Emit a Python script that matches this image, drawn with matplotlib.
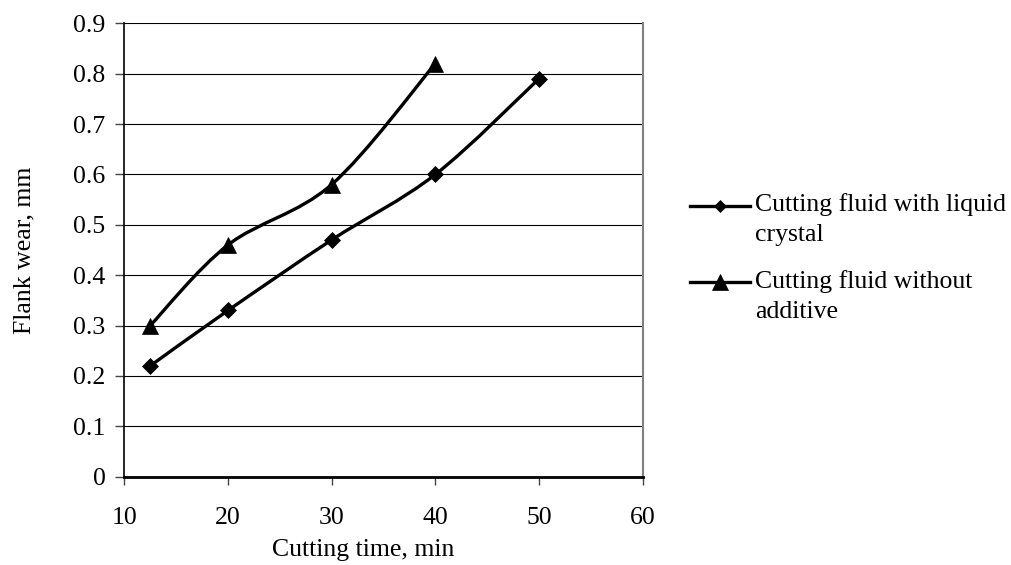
import numpy as np
import matplotlib
matplotlib.use('Agg')
import matplotlib.pyplot as plt
from matplotlib.path import Path
from matplotlib.patches import PathPatch
from matplotlib.lines import Line2D
from matplotlib.legend_handler import HandlerLine2D

plt.rcParams['font.family'] = ['Liberation Serif', 'DejaVu Serif']
plt.rcParams['font.size'] = 18.5

# donnees
time_crystal = [12.5, 20, 30, 40, 50]
wear_crystal = [0.22, 0.33, 0.47, 0.60, 0.79]
time_plain = [12.5, 20, 30, 40]
wear_plain = [0.30, 0.46, 0.58, 0.82]

labels = ['Cutting fluid with liquid\ncrystal', 'Cutting fluid without\nadditive']
x_ticks = [10, 20, 30, 40, 50, 60]
y_ticks = [0, 0.1, 0.2, 0.3, 0.4, 0.5, 0.6, 0.7, 0.8, 0.9]


def smooth_path(xs, ys):
    # courbe lissee type Excel (Bezier / Catmull-Rom)
    pts = np.column_stack([xs, ys]).astype(float)
    n = len(pts)
    verts = [pts[0]]
    codes = [Path.MOVETO]
    for i in range(n - 1):
        p_prev = pts[i - 1] if i > 0 else pts[i]
        p_next = pts[i + 2] if i + 2 < n else pts[i + 1]
        c1 = pts[i] + (pts[i + 1] - p_prev) / 6.0
        c2 = pts[i + 1] - (p_next - pts[i]) / 6.0
        verts += [c1, c2, pts[i + 1]]
        codes += [Path.CURVE4] * 3
    return Path(verts, codes)


class FirstLineHandler(HandlerLine2D):
    # aligne le symbole sur la premiere ligne du texte
    def create_artists(self, legend, orig_handle, xdescent, ydescent,
                       width, height, fontsize, trans):
        shift = 9.7
        return super().create_artists(legend, orig_handle, xdescent,
                                      ydescent - 2 * shift, width, height,
                                      fontsize, trans)


fig = plt.figure(figsize=(10.11, 5.65), dpi=100)
ax = fig.add_axes([124.3 / 1011, 1 - 476.7 / 565, 518.4 / 1011, 453.4 / 565])

lw = 2.4
for xs, ys in [(time_crystal, wear_crystal), (time_plain, wear_plain)]:
    ax.add_patch(PathPatch(smooth_path(xs, ys), facecolor='none', edgecolor='black',
                           lw=lw, transform=ax.transData, zorder=3, capstyle='round',
                           joinstyle='round'))

ax.plot(time_crystal, wear_crystal, linestyle='none', marker='D', ms=8.4,
        color='black', mew=0.5, zorder=4)
ax.plot(time_plain, wear_plain, linestyle='none', marker='^', ms=12,
        color='black', mew=0.5, zorder=4)

ax.set_xlim(10, 60)
ax.set_ylim(0, 0.9)
ax.set_xticks(x_ticks)
ax.set_yticks(y_ticks)
ax.set_yticklabels(['0' if v == 0 else f'{v:.1f}' for v in y_ticks])

ax.grid(axis='y', color='black', lw=0.8, zorder=1)
ax.set_axisbelow(True)
ax.spines['top'].set_visible(False)
ax.spines['right'].set_color('#808080')
ax.spines['right'].set_linewidth(1.5)
ax.spines['left'].set_linewidth(1.2)
ax.spines['bottom'].set_linewidth(2.0)

ax.tick_params(axis='x', direction='out', length=6, width=1, color='#444444', pad=16)
ax.tick_params(axis='y', direction='out', length=6.5, width=1, color='#444444', pad=7)

ax.set_xlabel('Cutting time, min', x=0.46, labelpad=7)
ax.set_ylabel('Flank wear, mm', labelpad=27)

h1 = Line2D([], [], color='black', lw=lw, marker='D', ms=6.5, mew=0.5)
h2 = Line2D([], [], color='black', lw=lw, marker='^', ms=12, mew=0.5)
leg = fig.legend([h1, h2], labels, loc='upper left',
                 bbox_to_anchor=(690 / 1011, 1 - 193 / 565),
                 bbox_transform=fig.transFigure, frameon=False,
                 borderpad=0, borderaxespad=0, handlelength=2.34,
                 handletextpad=0.2, labelspacing=0.9,
                 handler_map={Line2D: FirstLineHandler()})
for t in leg.get_texts():
    t.set_linespacing(1.5)

fig.savefig('out.png', dpi=100)
